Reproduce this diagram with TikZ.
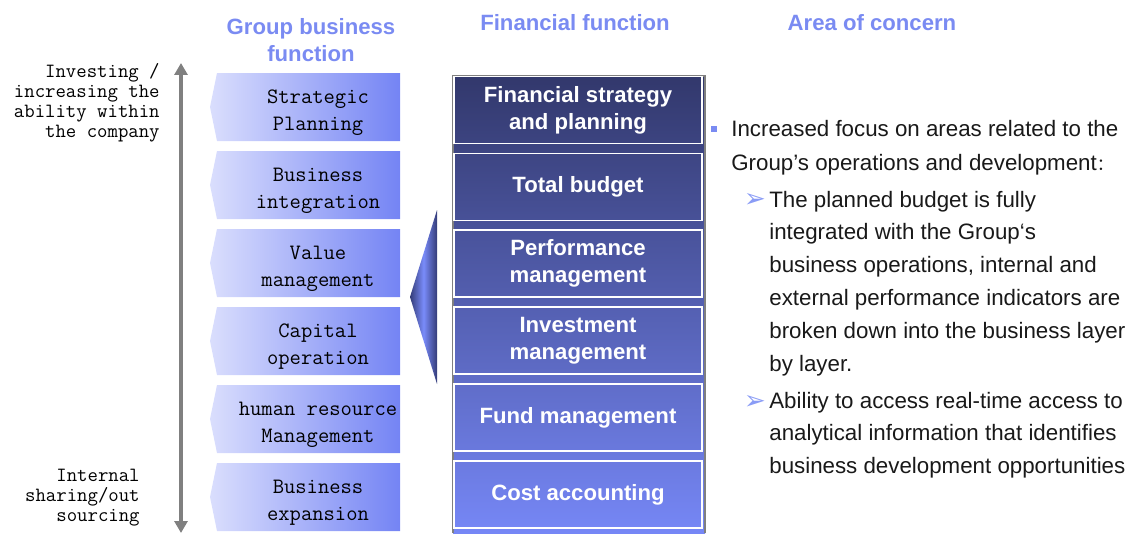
\documentclass[tikz,border=0pt]{standalone}
\usepackage{fontspec}
\setmainfont{Liberation Sans}
\newfontfamily\cjk{Noto Sans CJK SC}
\newfontfamily\dingfont{DejaVu Sans}
\usetikzlibrary{arrows.meta, positioning}
\definecolor{headblue}{RGB}{122,139,242}
\definecolor{bulletblue}{RGB}{138,156,246}
\definecolor{chevlight}{RGB}{218,222,253}
\definecolor{chevdark}{RGB}{116,132,244}
\definecolor{fintop}{RGB}{50,56,108}
\definecolor{finbot}{RGB}{118,135,246}
\definecolor{wedgedark}{RGB}{52,60,120}
\definecolor{wedgelight}{RGB}{122,140,250}
\definecolor{axisgray}{RGB}{128,128,128}
\definecolor{textblack}{RGB}{25,25,25}

\begin{document}
\begin{tikzpicture}[x=0.02cm, y=-0.02cm,
        head/.style={font=\fontsize{12.6}{15.3}\selectfont\bfseries, text=headblue, align=center, inner sep=0pt},
        sidetext/.style={font=\ttfamily\fontsize{11.5}{11.4}\selectfont, align=right, inner sep=0pt},
        chevtext/.style={font=\ttfamily\fontsize{12.5}{15.4}\selectfont, align=center, inner sep=0pt},
        finbox/.style={draw=white, line width=0.9pt, minimum width=4.96cm, minimum height=1.34cm, align=center, text=white, font=\fontsize{12.6}{15.3}\selectfont\bfseries},
        areatext/.style={font=\fontsize{12.7}{18.7}\selectfont, text=textblack, anchor=base west, inner sep=0pt},
        arrowbullet/.style={text=bulletblue, font=\dingfont\fontsize{15}{15}\selectfont, inner sep=0pt},
        axis/.style={draw=axisgray, line width=0.09cm, {Triangle[length=0.24cm, width=0.26cm]}-{Triangle[length=0.24cm, width=0.26cm]}},
        node distance=0.166cm
    ]
    \useasboundingbox (0,0) rectangle (1134,534);

    % column headings
    \node[head] (hgroup) at (311,40) {Group business\\function};
    \node[head] (hfin) at (575,23) {Financial function};
    \node[head] (harea) at (872,23) {Area of concern};

    % vertical axis
    \coordinate (uptip) at (181,63);
    \coordinate (downtip) at (181,533);
    \draw[axis] (uptip) -- (downtip);
    \node[sidetext, anchor=east] (invest) at (160,103) {Investing /\\increasing the\\ability within\\the company};
    \node[sidetext, anchor=east] (share) at (140,498) {Internal\\sharing/out\\sourcing};

    % group business functions
    \foreach \ytop/\txt [count=\i] in {73/{Strategic\\Planning}, 151/{Business\\integration}, 229/{Value\\management}, 307/{Capital\\operation}, 385/{human resource\\Management}, 463/{Business\\expansion}} {
        \shade[left color=chevlight, right color=chevdark] (217,\ytop) -- (400,\ytop) -- (400,{\ytop+68}) -- (217,{\ytop+68}) -- (210,{\ytop+34}) -- cycle;
        \node[chevtext] (grp\i) at (318,{\ytop+40}) {\txt};
    }

    % wedge
    \shade[left color=wedgedark, right color=wedgedark, middle color=wedgelight] (437,210) -- (410,297) -- (437,384) -- cycle;

    % financial functions
    \shade[top color=fintop, bottom color=finbot] (453,76) rectangle (705,533);
    \draw[axisgray, line width=0.6pt] (453,533) -- (453,76) -- (705,76) -- (705,533);
    \node[finbox] (fin1) at (578,110) {Financial strategy\\and planning};
    \node[finbox, below=of fin1] (fin2) {Total budget};
    \node[finbox, below=of fin2] (fin3) {Performance\\management};
    \node[finbox, below=of fin3] (fin4) {Investment\\management};
    \node[finbox, below=of fin4] (fin5) {Fund management};
    \node[finbox, below=of fin5] (fin6) {Cost accounting};

    % area of concern
    \node[fill=headblue, minimum size=0.11cm, inner sep=0pt] (sq) at (714,129) {};
    \node[areatext] (a1) at (731,136) {Increased focus on areas related to the};
    \node[areatext] (a2) at (731,170) {Group's operations and development{\cjk\fontsize{9.5}{9.5}\selectfont ：}};
    \node[arrowbullet] (arr1) at (755,200) {➢};
    \foreach \txt [count=\i] in {The planned budget is fully, integrated with the Group‘s, {business operations, internal and}, external performance indicators are, broken down into the business layer, by layer.} {
        \node[areatext] (b\i) at (769,{207+(\i-1)*32.8}) {\txt};
    }
    \node[arrowbullet] (arr2) at (755,402) {➢};
    \foreach \txt [count=\i] in {Ability to access real-time access to, analytical information that identifies, business development opportunities} {
        \node[areatext] (c\i) at (769,{408+(\i-1)*32.8}) {\txt};
    }
\end{tikzpicture}
\end{document}
